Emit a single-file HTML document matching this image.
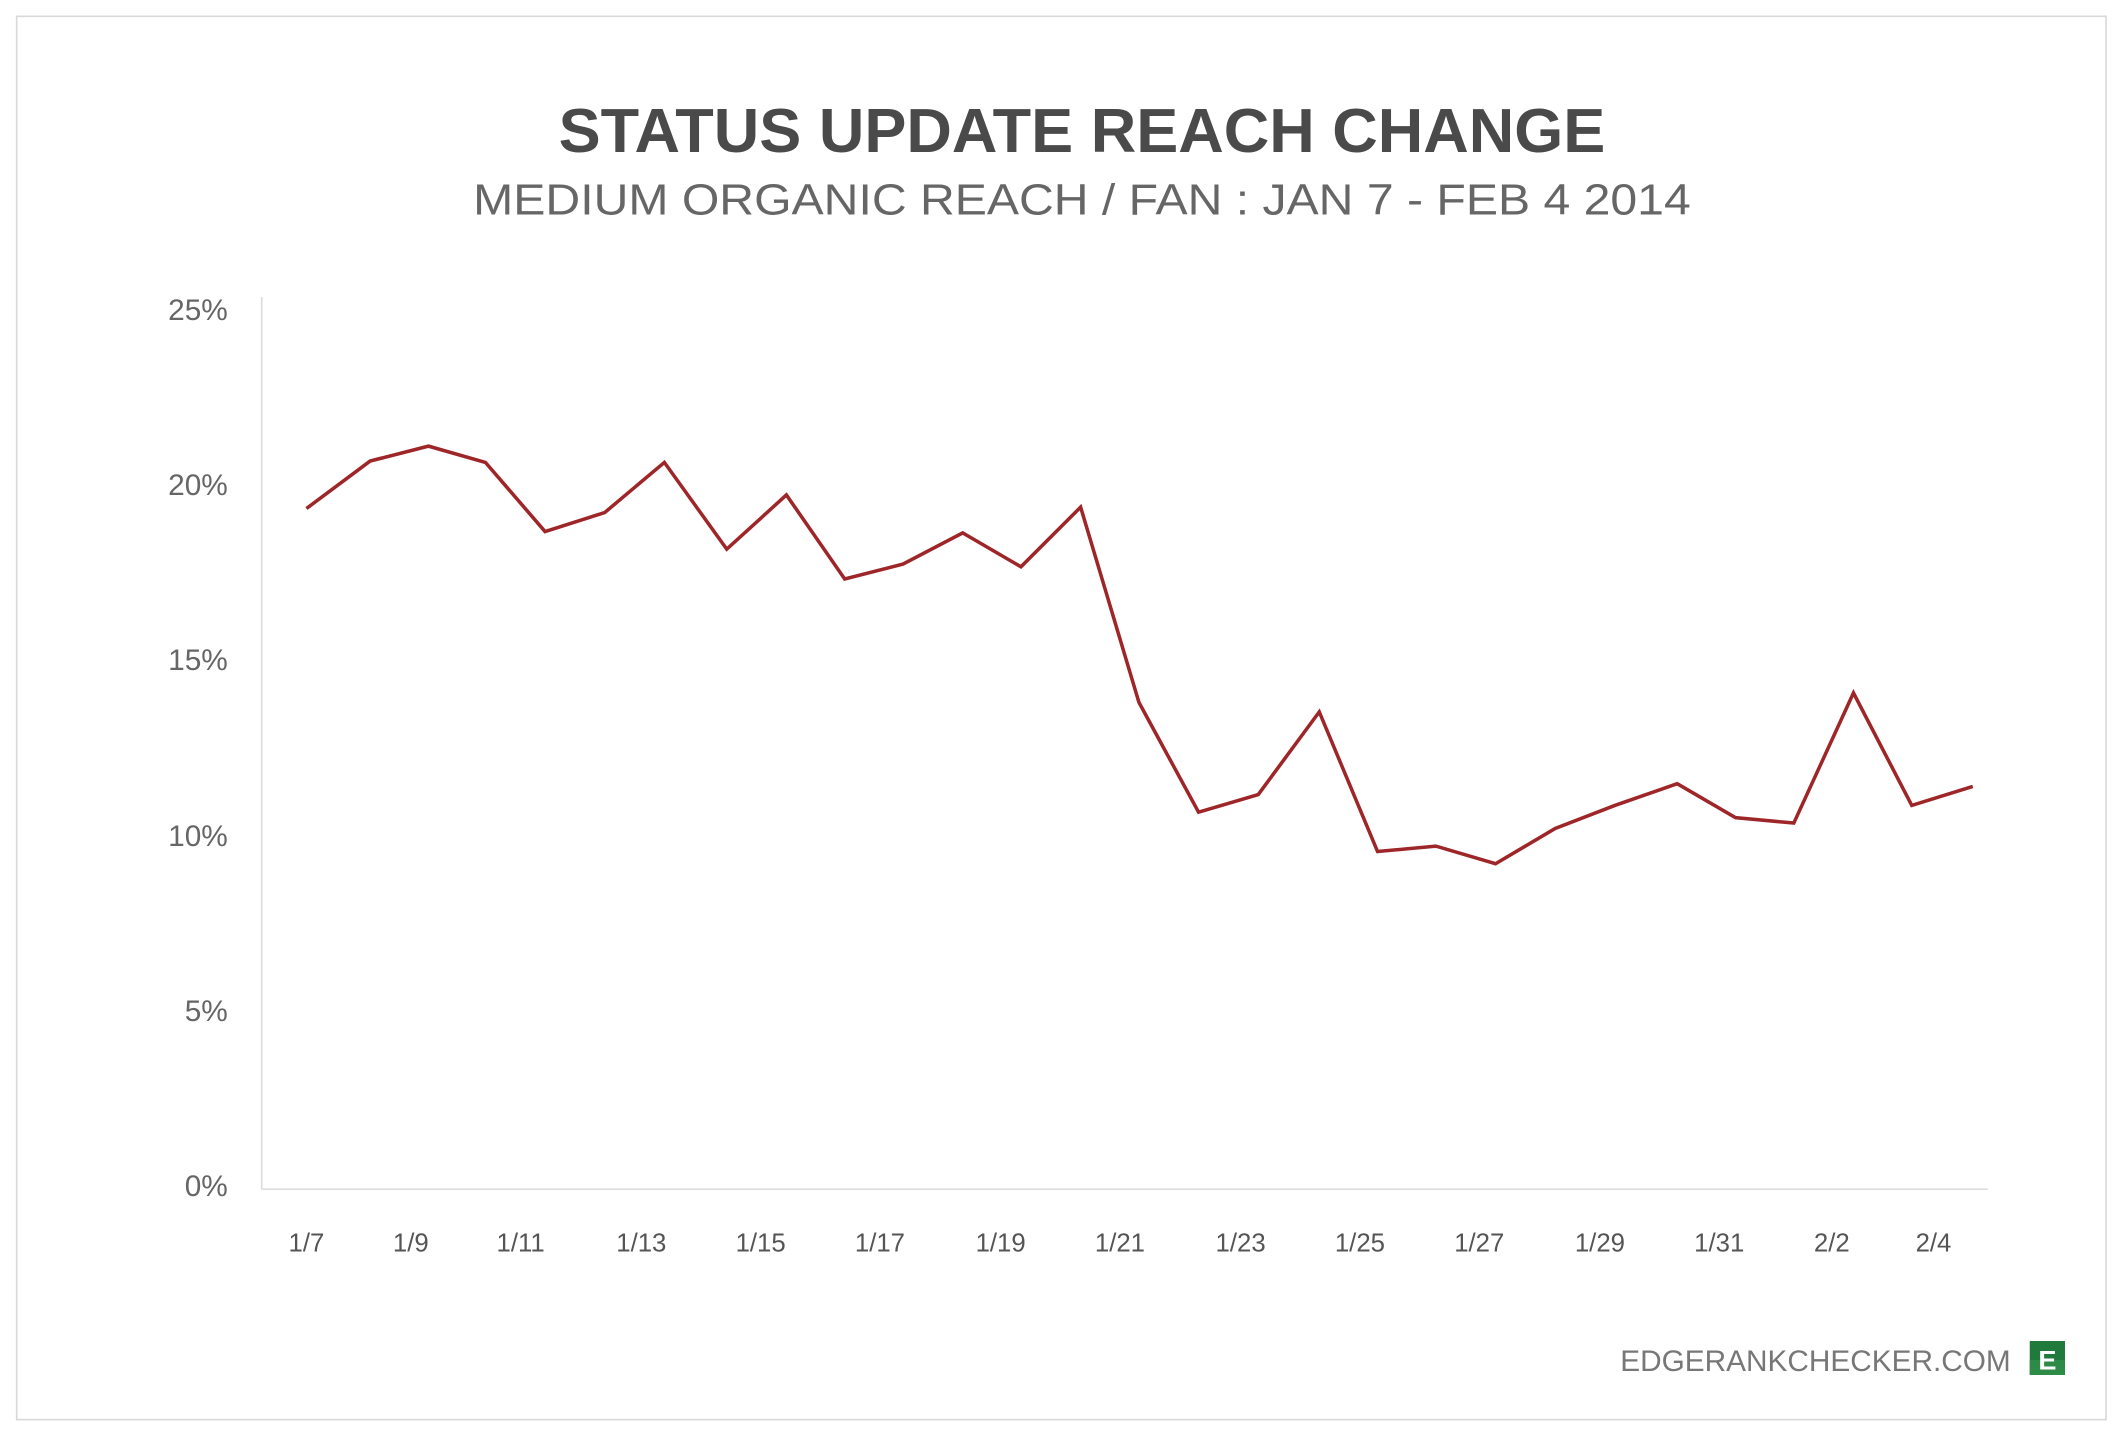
<!DOCTYPE html>
<html><head><meta charset="utf-8"><style>
html,body{margin:0;padding:0;background:#fff;}
svg{display:block;}
text{font-family:"Liberation Sans",sans-serif;}
</style></head><body>
<svg width="2126" height="1435" viewBox="0 0 1568 1058.3" xmlns="http://www.w3.org/2000/svg">
<rect x="0" y="0" width="1568" height="1058.3" fill="#fff"/>
<rect x="12.3" y="12" width="1541" height="1035" fill="none" stroke="#d9d9d9" stroke-width="1.2"/>
<text x="798" y="112" text-anchor="middle" font-size="46" font-weight="bold" fill="#4a4a4a" textLength="772" lengthAdjust="spacingAndGlyphs">STATUS UPDATE REACH CHANGE</text>
<text x="798" y="158" text-anchor="middle" font-size="32" fill="#666" textLength="898" lengthAdjust="spacingAndGlyphs">MEDIUM ORGANIC REACH / FAN : JAN 7 - FEB 4 2014</text>
<g font-size="22" fill="#666" text-anchor="end">
<text x="168" y="236">25%</text>
<text x="168" y="365">20%</text>
<text x="168" y="494">15%</text>
<text x="168" y="624">10%</text>
<text x="168" y="753">5%</text>
<text x="168" y="882">0%</text>
</g>
<line x1="193" y1="219" x2="193" y2="877" stroke="#ddd" stroke-width="1.2"/>
<line x1="193" y1="877" x2="1466" y2="877" stroke="#ddd" stroke-width="1.2"/>
<g font-size="19" fill="#555" text-anchor="middle">
<text x="226" y="923">1/7</text><text x="303" y="923">1/9</text><text x="384" y="923">1/11</text>
<text x="473" y="923">1/13</text><text x="561" y="923">1/15</text><text x="649" y="923">1/17</text>
<text x="738" y="923">1/19</text><text x="826" y="923">1/21</text><text x="915" y="923">1/23</text>
<text x="1003" y="923">1/25</text><text x="1091" y="923">1/27</text><text x="1180" y="923">1/29</text>
<text x="1268" y="923">1/31</text><text x="1351" y="923">2/2</text><text x="1426" y="923">2/4</text>
</g>
<polyline fill="none" stroke="#9e2528" stroke-width="2.6" stroke-linejoin="miter" points="226,375 273,340 316,329 358,341 402,392 446,378 490,341 536,405 580,365 623,427 666,416 710,393 753,418 797,374 840,518 884,599 928,586 973,525 1016,628 1059,624 1103,637 1147,611 1191,594 1237,578 1280,603 1323,607 1367,511 1410,594 1455,580"/>
<text x="1483" y="1011" text-anchor="end" font-size="22" fill="#777" textLength="288" lengthAdjust="spacingAndGlyphs">EDGERANKCHECKER.COM</text>
<rect x="1497" y="989" width="26" height="25" fill="#1f7a3c"/>
<rect x="1497" y="1003" width="26" height="11" fill="#2e8b47"/>
<text x="1510" y="1010" text-anchor="middle" font-size="20" font-weight="bold" fill="#fff">E</text>
</svg>
</body></html>
